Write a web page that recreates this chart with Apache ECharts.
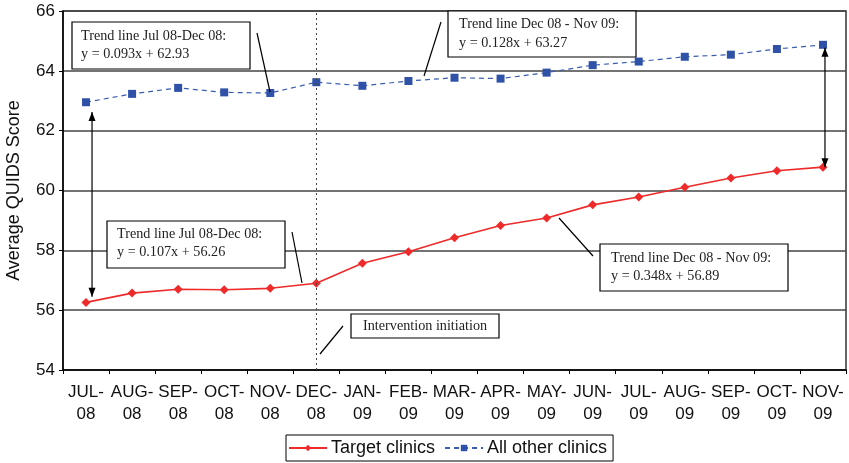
<!DOCTYPE html>
<html><head><meta charset="utf-8">
<script src="https://cdn.jsdelivr.net/npm/echarts@6/dist/echarts.min.js"></script>
<style>html,body{margin:0;padding:0;background:#fff}#c{width:849px;height:463px}</style>
</head><body><div id="c"></div>
<script>
const categories = ['JUL-\n08','AUG-\n08','SEP-\n08','OCT-\n08','NOV-\n08','DEC-\n08','JAN-\n09','FEB-\n09','MAR-\n09','APR-\n09','MAY-\n09','JUN-\n09','JUL-\n09','AUG-\n09','SEP-\n09','OCT-\n09','NOV-\n09'];
const targetClinics = [56.26, 56.57, 56.70, 56.68, 56.73, 56.90, 57.57, 57.95, 58.42, 58.83, 59.08, 59.52, 59.78, 60.11, 60.42, 60.66, 60.78];
const otherClinics = [62.95, 63.23, 63.43, 63.28, 63.26, 63.62, 63.50, 63.66, 63.77, 63.74, 63.94, 64.19, 64.31, 64.47, 64.54, 64.73, 64.87];
const yMin = 54, yMax = 66, yStep = 2;
const interventionIndex = 5;
const notes = [
  {lines:['Trend line Jul 08-Dec 08:','y = 0.093x + 62.93']},
  {lines:['Trend line Dec 08 - Nov 09:','y = 0.128x + 63.27']},
  {lines:['Trend line Jul 08-Dec 08:','y = 0.107x + 56.26']},
  {lines:['Trend line Dec 08 - Nov 09:','y = 0.348x + 56.89']},
  {lines:['Intervention initiation']}
];

const chart = echarts.init(document.getElementById('c'));
const serif = '"Liberation Serif", "Times New Roman", serif';
const sans = '"Liberation Sans", Arial, sans-serif';

function box(x, y, w, h, lines, tx, ty, lh) {
  return {type:'group', children:[
    {type:'rect', shape:{x:x, y:y, width:w, height:h}, style:{fill:'#fff', stroke:'#000', lineWidth:1.2}, z:10},
    {type:'text', x:tx, y:ty, style:{text:lines.join('\n'), font:'14.2px ' + serif, fill:'#222', lineHeight:lh}, z:11}
  ]};
}
function seg(x1,y1,x2,y2){return {type:'line', shape:{x1:x1,y1:y1,x2:x2,y2:y2}, style:{stroke:'#000', lineWidth:1.2}, z:10};}

const option = {
  animation:false,
  backgroundColor:'#fff',
  grid:{left:63, right:3, top:11, bottom:93, show:true, borderColor:'#333', borderWidth:1.5,
        containLabel:false, outerBoundsMode:'none'},
  legend:{
    bottom:2, left:286,
    data:['Target clinics','All other clinics'],
    borderColor:'#000', borderWidth:1, padding:[4,6,4,2],
    itemWidth:38, itemHeight:8, itemGap:9,
    textStyle:{fontFamily:sans, fontSize:18, color:'#111', padding:[0,0,0,-1]}
  },
  xAxis:{
    type:'category', data:categories, boundaryGap:true,
    axisLine:{lineStyle:{color:'#000', width:1.5}},
    axisTick:{show:true, length:4, interval:0, lineStyle:{color:'#000'}},
    axisLabel:{interval:0, fontFamily:sans, fontSize:17, color:'#111', lineHeight:22, margin:11}
  },
  yAxis:{
    type:'value', min:yMin, max:yMax, interval:yStep,
    name:'Average QUIDS Score', nameLocation:'middle', nameGap:40,
    nameTextStyle:{fontFamily:sans, fontSize:18, color:'#111'},
    axisLine:{show:true, lineStyle:{color:'#000', width:1.5}},
    axisTick:{show:true, length:4, lineStyle:{color:'#000'}},
    axisLabel:{fontFamily:sans, fontSize:17, color:'#111', margin:8},
    splitLine:{lineStyle:{color:'#444', width:1.5}}
  },
  series:[
    {name:'Target clinics', type:'line', data:targetClinics, symbol:'diamond', symbolSize:9,
     itemStyle:{color:'#ee2a2a'}, lineStyle:{color:'#ee2a2a', width:1.6},
     markLine:{silent:true, symbol:['none','none'], label:{show:false},
       lineStyle:{color:'#444', type:[2,3], width:1},
       data:[{xAxis:interventionIndex}]}
    },
    {name:'All other clinics', type:'line', data:otherClinics, symbol:'rect', symbolSize:8,
     itemStyle:{color:'#2f52a8'}, lineStyle:{color:'#3a5cb0', width:1.2, type:[5,4]}}
  ]
};
chart.setOption(option);

function arrow(idx, v1, v2, dx) {
  const p1 = chart.convertToPixel({xAxisIndex:0, yAxisIndex:0}, [idx, v1]);
  const p2 = chart.convertToPixel({xAxisIndex:0, yAxisIndex:0}, [idx, v2]);
  const x = p1[0] + dx;
  const y1 = p1[1], y2 = p2[1];
  const hw = 3.5, hl = 9;
  const dir = y2 > y1 ? 1 : -1;
  return [
    {type:'line', shape:{x1:x, y1:y1, x2:x, y2:y2}, style:{stroke:'#000', lineWidth:1.2}, z:10},
    {type:'polygon', shape:{points:[[x,y1],[x-hw,y1+dir*hl],[x+hw,y1+dir*hl]]}, style:{fill:'#000'}, z:10},
    {type:'polygon', shape:{points:[[x,y2],[x-hw,y2-dir*hl],[x+hw,y2-dir*hl]]}, style:{fill:'#000'}, z:10}
  ];
}

const g = [
  box(72,22,178,47, notes[0].lines, 81, 27, 18),
  seg(257,33,270,92),
  box(448,11,188,46, notes[1].lines, 459, 14.5, 19),
  seg(441,22,424,76),
  box(107,221,178,47, notes[2].lines, 117, 226, 17.5),
  seg(292,232,302,283),
  box(600,244,188,47, notes[3].lines, 611, 250, 17.5),
  seg(559,218,593,256),
  box(351,314,148,24, notes[4].lines, 363, 317, 18),
  seg(343,326,320,354)
].concat(arrow(0, 62.62, 56.45, 6), arrow(16, 64.77, 60.78, 2));
chart.setOption({graphic:g});
</script></body></html>
